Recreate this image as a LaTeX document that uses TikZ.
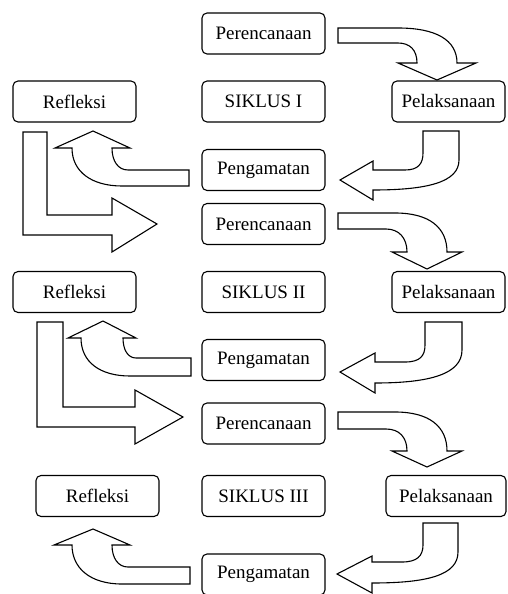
\documentclass[tikz,border=0pt]{standalone}
\usepackage{fontspec}
\setmainfont{Liberation Serif}
\usetikzlibrary{positioning}

\tikzset{
  box/.style={draw,rounded corners=5pt,line width=1.1pt,minimum width=123pt,
    minimum height=41pt,inner sep=2pt,font=\fontsize{19}{21}\selectfont},
  barrow/.style={draw,fill=white,line width=1.1pt,line join=miter}
}

\begin{document}
\begin{tikzpicture}[x=1pt,y=-1pt]
\useasboundingbox (0,0) rectangle (507,594);

% siklus I
\node[box] (per1) at (263.5,33.5) {Perencanaan};
\node[box] (sik1) at (263.5,101.5) {SIKLUS I};
\node[box] (ref1) at (74.5,101.5) {Refleksi};
\node[box,minimum width=113pt] (pel1) at (448.5,101.5) {Pelaksanaan};
\node[box] (pen1) at (263.5,170) {Pengamatan};

% siklus II
\node[box] (per2) at (263.5,224) {Perencanaan};
\node[box] (sik2) at (263.5,292) {SIKLUS II};
\node[box] (ref2) at (74.5,292) {Refleksi};
\node[box,minimum width=113pt] (pel2) at (448.5,292) {Pelaksanaan};
\node[box] (pen2) at (263.5,360) {Pengamatan};

% siklus III
\node[box] (per3) at (263.5,423.5) {Perencanaan};
\node[box] (sik3) at (263.5,496) {SIKLUS III};
\node[box] (ref3) at (97.5,496) {Refleksi};
\node[box,minimum width=120pt] (pel3) at (446,496) {Pelaksanaan};
\node[box] (pen3) at (263.5,574.5) {Pengamatan};

% perencanaan -> pelaksanaan
\path[barrow] (338,28) -- (398,28) .. controls (436,28) and (457,40) .. (457,63)
  -- (476,63) -- (437,80) -- (398,63) -- (417,63)
  .. controls (417,50) and (410,43) .. (398,43) -- (338,43) -- cycle;
\path[barrow] (338,213) -- (395,213) .. controls (430,213) and (447,228) .. (447,252)
  -- (462,252) -- (427,269) -- (392,252) -- (407,252)
  .. controls (407,238) and (399,229) .. (386,229) -- (338,229) -- cycle;
\path[barrow] (338,412) -- (395,412) .. controls (430,412) and (447,427) .. (447,451)
  -- (462,451) -- (427,467) -- (392,451) -- (407,451)
  .. controls (407,437) and (399,429) .. (386,429) -- (338,429) -- cycle;

% pelaksanaan -> pengamatan
\path[barrow] (423,131) -- (459,131) -- (459,160)
  .. controls (459,182) and (428,190) .. (373,190)
  -- (373,200) -- (340,180) -- (373,161) -- (373,170) -- (405,170)
  .. controls (418,170) and (423,164) .. (423,153) -- cycle;
\path[barrow] (425,322) -- (462,322) -- (462,350)
  .. controls (462,374) and (430,383) .. (375,383)
  -- (375,393) -- (340,372) -- (375,353) -- (375,362) -- (405,362)
  .. controls (420,362) and (425,356) .. (425,345) -- cycle;
\path[barrow] (423,523) -- (458,523) -- (458,552)
  .. controls (458,575) and (428,583) .. (372,583)
  -- (372,593) -- (337,574) -- (372,556) -- (372,562) -- (402,562)
  .. controls (417,562) and (423,556) .. (423,545) -- cycle;

% pengamatan -> refleksi
\path[barrow] (189,170) -- (128,170) .. controls (118,170) and (112,161) .. (112,148)
  -- (130,148) -- (93,131) -- (55,148) -- (72,148)
  .. controls (72,172) and (92,186) .. (122,186) -- (189,186) -- cycle;
\path[barrow] (191,358) -- (136,358) .. controls (128,358) and (123,350) .. (123,338)
  -- (136,338) -- (103,321) -- (68,338) -- (81,338)
  .. controls (81,362) and (100,376) .. (130,376) -- (191,376) -- cycle;
\path[barrow] (190,567) -- (128,567) .. controls (118,567) and (112,558) .. (112,545)
  -- (130,545) -- (93,529) -- (54,545) -- (72,545)
  .. controls (72,568) and (90,584) .. (122,584) -- (190,584) -- cycle;

% refleksi -> perencanaan
\path[barrow] (23,132) -- (47,132) -- (47,215) -- (112,215) -- (112,198)
  -- (157,224) -- (112,252) -- (112,235) -- (23,235) -- cycle;
\path[barrow] (37,322) -- (63,322) -- (63,407) -- (135,407) -- (135,390)
  -- (183,417) -- (135,444) -- (135,427) -- (37,427) -- cycle;
\end{tikzpicture}
\end{document}
